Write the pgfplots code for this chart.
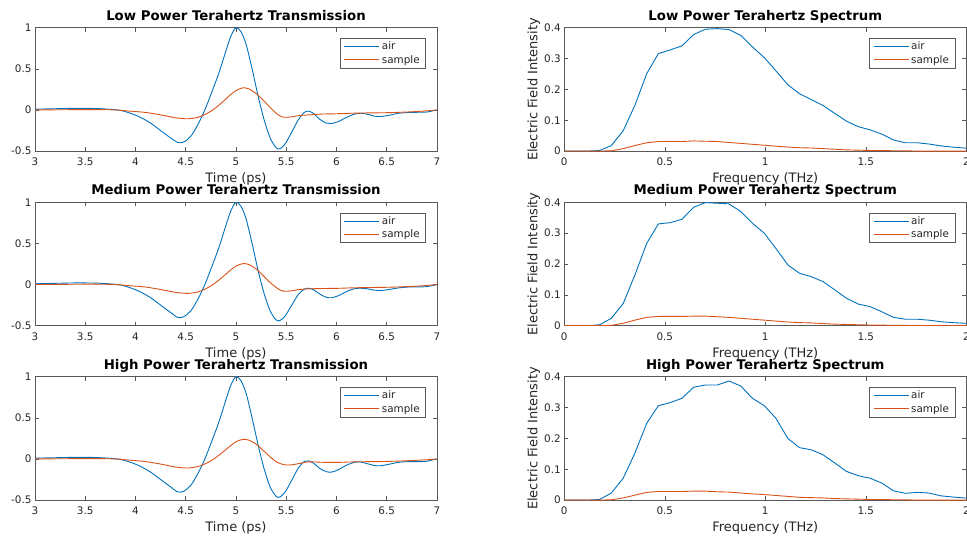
\documentclass[border=0pt]{standalone}
\usepackage{pgfplots}
\pgfplotsset{compat=1.18}
\usepackage{fontspec}
\setmainfont{DejaVu Sans}
\definecolor{mblue}{rgb}{0,0.447,0.741}
\definecolor{morange}{rgb}{0.85,0.325,0.098}
\definecolor{axgray}{rgb}{0.35,0.35,0.35}
\definecolor{txtgray}{rgb}{0.15,0.15,0.15}
\pgfplotsset{
  mybase/.style={
    scale only axis, width=402pt, height=123.4pt,
    /pgf/number format/assume math mode=true,
    axis line style={axgray, line width=0.6pt},
    tick style={axgray, line width=0.6pt},
    tick align=inside, major tick length=4pt,
    xtick pos=both, ytick pos=both,
    xticklabel pos=lower, yticklabel pos=left,
    ticklabel style={font=\fontsize{10.4}{12}\selectfont, text=txtgray},
    xticklabel style={anchor=base, yshift=-14.7pt},
    every axis title shift=0pt,
    title style={at={(axis description cs:0.5,1.0624)}, anchor=base, yshift=0pt, font=\bfseries\fontsize{13.3}{15}\selectfont},
    xlabel style={at={(axis description cs:0.5,-0.2545)}, anchor=base, font=\fontsize{13}{15}\selectfont, text=txtgray},
    ylabel style={at={(axis description cs:-0.0672,0.5)}, anchor=base, font=\fontsize{13}{15}\selectfont, text=txtgray},
    legend cell align=left,
    legend image code/.code={\draw[#1] (0pt,0pt) -- (35pt,0pt);},
    legend style={at={(axis description cs:1,1)}, anchor=north east, xshift=-11pt, yshift=-10.3pt,
      draw=axgray, line width=0.6pt, font=\fontsize{10.4}{12}\selectfont, text=txtgray,
      inner xsep=4pt, inner ysep=1.5pt, row sep=0pt,
      /tikz/every even column/.style={column sep=0pt}},
    every axis plot/.append style={line width=0.9pt},
  },
  timeax/.style={mybase, xmin=3, xmax=7, ymin=-0.5, ymax=1,
    xtick={3,3.5,...,7}, ytick={-0.5,0,0.5,1}, xlabel={Time (ps)}},
  specax/.style={mybase, xmin=0, xmax=2, ymin=0, ymax=0.4,
    xtick={0,0.5,1,1.5,2}, ytick={0,0.1,0.2,0.3,0.4}, xlabel={Frequency (THz)},
    ylabel={Electric Field Intensity}},
}
\begin{document}
\begin{tikzpicture}
% ---------- Low power transmission ----------
\begin{axis}[timeax, at={(35pt,-27.7pt)}, anchor=north west, title={Low Power Terahertz Transmission}]
\addplot[mblue, smooth] coordinates {
(3.00,0.010)(3.20,0.015)(3.40,0.020)(3.60,0.018)(3.75,0.008)(3.85,-0.005)(3.95,-0.040)(4.05,-0.090)(4.15,-0.160)(4.25,-0.250)(4.35,-0.340)(4.42,-0.395)(4.48,-0.390)(4.55,-0.320)(4.62,-0.180)(4.69,0.000)(4.76,0.220)(4.83,0.450)(4.90,0.720)(4.95,0.900)(5.00,1.000)(5.05,0.950)(5.10,0.800)(5.16,0.500)(5.22,0.170)(5.28,-0.120)(5.34,-0.340)(5.40,-0.460)(5.44,-0.470)(5.49,-0.410)(5.55,-0.280)(5.62,-0.120)(5.68,-0.030)(5.72,-0.015)(5.77,-0.040)(5.83,-0.110)(5.90,-0.160)(5.95,-0.165)(6.02,-0.140)(6.10,-0.090)(6.18,-0.050)(6.24,-0.040)(6.30,-0.050)(6.38,-0.075)(6.44,-0.080)(6.52,-0.065)(6.62,-0.040)(6.72,-0.030)(6.82,-0.028)(6.90,-0.025)(6.96,-0.010)(7.00,0.000)};
\addlegendentry{air}
\addplot[morange, smooth] coordinates {
(3.00,0.000)(3.30,0.003)(3.60,0.005)(3.80,0.000)(3.95,-0.015)(4.10,-0.030)(4.25,-0.060)(4.40,-0.095)(4.52,-0.107)(4.62,-0.090)(4.70,-0.050)(4.78,0.010)(4.86,0.090)(4.94,0.180)(5.00,0.235)(5.07,0.270)(5.13,0.255)(5.20,0.200)(5.27,0.120)(5.34,0.030)(5.41,-0.050)(5.47,-0.088)(5.54,-0.085)(5.63,-0.068)(5.72,-0.060)(5.85,-0.050)(6.00,-0.046)(6.15,-0.040)(6.30,-0.036)(6.50,-0.033)(6.70,-0.025)(6.85,-0.015)(7.00,0.000)};
\addlegendentry{sample}
\end{axis}
% ---------- Low power spectrum ----------
\begin{axis}[specax, at={(564.3pt,-27.7pt)}, anchor=north west, title={Low Power Terahertz Spectrum}]
\addplot[mblue] coordinates {
(0,0)(0.059,0)(0.117,0)(0.176,0.002)(0.234,0.018)(0.293,0.066)(0.351,0.148)(0.410,0.251)(0.468,0.316)(0.527,0.328)(0.585,0.341)(0.644,0.378)(0.702,0.395)(0.761,0.397)(0.819,0.394)(0.878,0.375)(0.936,0.338)(0.995,0.303)(1.053,0.260)(1.112,0.215)(1.170,0.186)(1.229,0.167)(1.287,0.148)(1.346,0.122)(1.404,0.097)(1.463,0.079)(1.521,0.069)(1.580,0.055)(1.638,0.036)(1.697,0.027)(1.755,0.027)(1.814,0.023)(1.872,0.017)(1.931,0.013)(1.989,0.010)(2.048,0.008)};
\addlegendentry{air}
\addplot[morange] coordinates {
(0,0)(0.059,0)(0.117,0)(0.176,0)(0.234,0.001)(0.293,0.008)(0.351,0.018)(0.410,0.027)(0.468,0.031)(0.527,0.031)(0.585,0.031)(0.644,0.033)(0.702,0.032)(0.761,0.031)(0.819,0.028)(0.878,0.025)(0.936,0.022)(0.995,0.019)(1.053,0.016)(1.112,0.013)(1.170,0.011)(1.229,0.010)(1.287,0.008)(1.346,0.006)(1.404,0.004)(1.463,0.003)(1.521,0.002)(1.580,0.002)(1.638,0.001)(1.697,0.001)(1.755,0)(1.814,0)(1.872,0)(1.931,0)(1.989,0)(2.048,0)};
\addlegendentry{sample}
\end{axis}
% ---------- Medium power transmission ----------
\begin{axis}[timeax, at={(35pt,-202.3pt)}, anchor=north west, title={Medium Power Terahertz Transmission}]
\addplot[mblue, smooth] coordinates {
(3.00,0.010)(3.20,0.015)(3.40,0.020)(3.60,0.018)(3.75,0.008)(3.85,-0.005)(3.95,-0.040)(4.05,-0.090)(4.15,-0.160)(4.25,-0.250)(4.35,-0.340)(4.42,-0.400)(4.48,-0.390)(4.55,-0.320)(4.62,-0.180)(4.69,0.000)(4.76,0.220)(4.83,0.450)(4.90,0.720)(4.95,0.900)(5.00,1.000)(5.05,0.950)(5.10,0.800)(5.16,0.500)(5.22,0.170)(5.28,-0.110)(5.34,-0.320)(5.40,-0.430)(5.44,-0.435)(5.49,-0.380)(5.55,-0.260)(5.62,-0.120)(5.68,-0.055)(5.73,-0.045)(5.78,-0.070)(5.84,-0.120)(5.90,-0.155)(5.95,-0.160)(6.02,-0.135)(6.10,-0.085)(6.18,-0.050)(6.24,-0.045)(6.30,-0.050)(6.38,-0.068)(6.44,-0.072)(6.52,-0.060)(6.62,-0.040)(6.72,-0.030)(6.82,-0.028)(6.90,-0.025)(6.96,-0.010)(7.00,0.000)};
\addlegendentry{air}
\addplot[morange, smooth] coordinates {
(3.00,0.000)(3.30,0.003)(3.60,0.005)(3.80,0.000)(3.95,-0.015)(4.10,-0.030)(4.25,-0.060)(4.40,-0.095)(4.52,-0.107)(4.62,-0.090)(4.70,-0.050)(4.78,0.008)(4.86,0.085)(4.94,0.170)(5.00,0.225)(5.07,0.255)(5.13,0.243)(5.20,0.190)(5.27,0.110)(5.34,0.025)(5.41,-0.045)(5.47,-0.080)(5.54,-0.078)(5.63,-0.060)(5.72,-0.052)(5.85,-0.048)(6.00,-0.046)(6.15,-0.040)(6.30,-0.036)(6.50,-0.033)(6.70,-0.025)(6.85,-0.015)(7.00,0.000)};
\addlegendentry{sample}
\end{axis}
% ---------- Medium power spectrum ----------
\begin{axis}[specax, at={(564.3pt,-202.3pt)}, anchor=north west, title={Medium Power Terahertz Spectrum}]
\addplot[mblue] coordinates {
(0,0)(0.059,0)(0.117,0)(0.176,0.003)(0.234,0.024)(0.293,0.072)(0.351,0.164)(0.410,0.267)(0.468,0.330)(0.527,0.334)(0.585,0.345)(0.644,0.384)(0.702,0.399)(0.761,0.397)(0.819,0.395)(0.878,0.370)(0.936,0.332)(0.995,0.300)(1.053,0.250)(1.112,0.197)(1.170,0.170)(1.229,0.159)(1.287,0.143)(1.346,0.116)(1.404,0.089)(1.463,0.070)(1.521,0.062)(1.580,0.045)(1.638,0.027)(1.697,0.021)(1.755,0.021)(1.814,0.018)(1.872,0.013)(1.931,0.010)(1.989,0.008)(2.048,0.006)};
\addlegendentry{air}
\addplot[morange] coordinates {
(0,0)(0.059,0)(0.117,0)(0.176,0)(0.234,0.001)(0.293,0.008)(0.351,0.018)(0.410,0.027)(0.468,0.030)(0.527,0.030)(0.585,0.030)(0.644,0.031)(0.702,0.031)(0.761,0.029)(0.819,0.027)(0.878,0.024)(0.936,0.021)(0.995,0.018)(1.053,0.015)(1.112,0.012)(1.170,0.010)(1.229,0.009)(1.287,0.007)(1.346,0.005)(1.404,0.004)(1.463,0.003)(1.521,0.002)(1.580,0.002)(1.638,0.001)(1.697,0.001)(1.755,0)(1.814,0)(1.872,0)(1.931,0)(1.989,0)(2.048,0)};
\addlegendentry{sample}
\end{axis}
% ---------- High power transmission ----------
\begin{axis}[timeax, at={(35pt,-376.7pt)}, anchor=north west, title={High Power Terahertz Transmission}]
\addplot[mblue, smooth] coordinates {
(3.00,0.010)(3.20,0.015)(3.40,0.020)(3.60,0.018)(3.75,0.008)(3.85,-0.005)(3.95,-0.040)(4.05,-0.090)(4.15,-0.160)(4.25,-0.250)(4.35,-0.340)(4.42,-0.400)(4.48,-0.392)(4.55,-0.320)(4.62,-0.180)(4.69,0.000)(4.76,0.220)(4.83,0.450)(4.90,0.720)(4.95,0.900)(5.00,1.000)(5.05,0.950)(5.10,0.800)(5.16,0.500)(5.22,0.170)(5.28,-0.120)(5.34,-0.340)(5.40,-0.455)(5.44,-0.460)(5.49,-0.400)(5.55,-0.270)(5.62,-0.110)(5.68,-0.030)(5.72,-0.022)(5.77,-0.050)(5.84,-0.120)(5.90,-0.155)(5.95,-0.160)(6.02,-0.130)(6.10,-0.075)(6.18,-0.040)(6.23,-0.035)(6.30,-0.055)(6.38,-0.080)(6.44,-0.082)(6.52,-0.065)(6.62,-0.040)(6.72,-0.032)(6.82,-0.033)(6.90,-0.028)(6.96,-0.010)(7.00,0.000)};
\addlegendentry{air}
\addplot[morange, smooth] coordinates {
(3.00,0.000)(3.30,0.003)(3.60,0.005)(3.80,0.000)(3.95,-0.015)(4.10,-0.032)(4.25,-0.062)(4.40,-0.098)(4.52,-0.110)(4.62,-0.092)(4.70,-0.055)(4.78,0.000)(4.86,0.075)(4.94,0.155)(5.00,0.210)(5.07,0.238)(5.13,0.228)(5.20,0.180)(5.27,0.105)(5.34,0.025)(5.41,-0.040)(5.48,-0.070)(5.55,-0.072)(5.63,-0.055)(5.72,-0.035)(5.85,-0.040)(6.00,-0.042)(6.15,-0.036)(6.30,-0.033)(6.50,-0.030)(6.70,-0.022)(6.85,-0.013)(7.00,0.000)};
\addlegendentry{sample}
\end{axis}
% ---------- High power spectrum ----------
\begin{axis}[specax, at={(564.3pt,-376.7pt)}, anchor=north west, title={High Power Terahertz Spectrum}]
\addplot[mblue] coordinates {
(0,0)(0.059,0)(0.117,0)(0.176,0.002)(0.234,0.023)(0.293,0.071)(0.351,0.152)(0.410,0.249)(0.468,0.306)(0.527,0.316)(0.585,0.330)(0.644,0.366)(0.702,0.373)(0.761,0.373)(0.819,0.386)(0.878,0.370)(0.936,0.330)(0.995,0.306)(1.053,0.265)(1.112,0.200)(1.170,0.170)(1.229,0.163)(1.287,0.147)(1.346,0.120)(1.404,0.093)(1.463,0.079)(1.521,0.071)(1.580,0.055)(1.638,0.030)(1.697,0.022)(1.755,0.025)(1.814,0.023)(1.872,0.014)(1.931,0.010)(1.989,0.007)(2.048,0.005)};
\addlegendentry{air}
\addplot[morange] coordinates {
(0,0)(0.059,0)(0.117,0)(0.176,0)(0.234,0.001)(0.293,0.007)(0.351,0.016)(0.410,0.025)(0.468,0.028)(0.527,0.028)(0.585,0.028)(0.644,0.029)(0.702,0.029)(0.761,0.027)(0.819,0.026)(0.878,0.023)(0.936,0.020)(0.995,0.018)(1.053,0.015)(1.112,0.012)(1.170,0.009)(1.229,0.008)(1.287,0.007)(1.346,0.005)(1.404,0.004)(1.463,0.003)(1.521,0.002)(1.580,0.002)(1.638,0.001)(1.697,0.001)(1.755,0)(1.814,0)(1.872,0)(1.931,0)(1.989,0)(2.048,0)};
\addlegendentry{sample}
\end{axis}
\pgfresetboundingbox
\useasboundingbox (0pt,0pt) rectangle (967pt,-538pt);
\end{tikzpicture}
\end{document}
